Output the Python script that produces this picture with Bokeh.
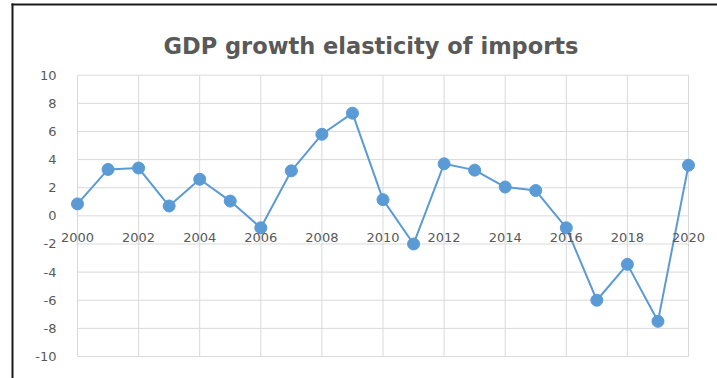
from bokeh.plotting import figure
from bokeh.models import (Range1d, FixedTicker, BoxAnnotation, ColumnDataSource,
                          Label, NumeralTickFormatter)
from bokeh.embed import file_html
from bokeh.resources import INLINE

years = list(range(2000, 2021))
elasticity = [0.85, 3.3, 3.4, 0.7, 2.6, 1.05, -0.85, 3.2, 5.8, 7.3, 1.15,
              -2.0, 3.7, 3.25, 2.05, 1.8, -0.85, -6.0, -3.45, -7.5, 3.6]
x_ticks = list(range(2000, 2021, 2))
y_ticks = list(range(-10, 11, 2))
title_text = "GDP growth elasticity of imports"

W, H = 717, 378
x_first_px, x_last_px = 77.0, 688.0
y_top_px, y_bot_px = 74.7, 356.0

px_x = (x_last_px - x_first_px) / (x_ticks[-1] - x_ticks[0])
px_y = (y_bot_px - y_top_px) / (y_ticks[-1] - y_ticks[0])
x0 = x_ticks[0] - x_first_px / px_x
x1 = x0 + W / px_x
y1 = y_ticks[-1] + y_top_px / px_y
y0 = y1 - H / px_y

src = ColumnDataSource(dict(year=years, value=elasticity))

p = figure(width=W, height=H, output_backend="svg", toolbar_location=None,
           x_range=Range1d(x0, x1), y_range=Range1d(y0, y1),
           min_border_left=0, min_border_right=0, min_border_top=0,
           min_border_bottom=0)
p.title.visible = False
p.background_fill_color = "white"
p.border_fill_color = "white"
p.outline_line_color = None
p.xgrid.visible = False
p.ygrid.visible = False

grid_color = "#D9D9D9"
p.segment(x0=x_ticks, y0=[y_ticks[0]] * len(x_ticks), x1=x_ticks,
          y1=[y_ticks[-1]] * len(x_ticks), line_color=grid_color, line_width=1)
p.segment(x0=[x_ticks[0]] * len(y_ticks), y0=y_ticks,
          x1=[x_ticks[-1]] * len(y_ticks), y1=y_ticks,
          line_color=grid_color, line_width=1)

p.xaxis.ticker = FixedTicker(ticks=x_ticks)
p.yaxis.ticker = FixedTicker(ticks=y_ticks)
p.yaxis.formatter = NumeralTickFormatter(format="0")
p.xaxis.fixed_location = 0
p.yaxis.fixed_location = x_ticks[0]
for ax in (p.xaxis, p.yaxis):
    ax.axis_line_color = None
    ax.major_tick_line_color = None
    ax.minor_tick_line_color = None
    ax.major_label_text_font = "DejaVu Sans"
    ax.major_label_text_font_size = "13px"
    ax.major_label_text_color = "#595959"
p.xaxis.major_label_standoff = 11
p.yaxis.major_label_standoff = 15

p.line("year", "value", source=src, line_color="#5B9BD5", line_width=2)
p.scatter("year", "value", source=src, size=12, fill_color="#5B9BD5",
          line_color="#5B9BD5")

p.add_layout(Label(x=163, y=45, x_units="canvas", y_units="canvas",
                   text=title_text, text_font="DejaVu Sans",
                   text_font_style="bold", text_font_size="22.5px",
                   text_color="#595959", text_align="left",
                   text_baseline="alphabetic"))

border_kw = dict(left_units="canvas", right_units="canvas", top_units="canvas",
                 bottom_units="canvas", fill_color="#1a1a1a", fill_alpha=1,
                 line_color=None, line_alpha=0, level="overlay")
p.add_layout(BoxAnnotation(left=11, right=13, top=3, bottom=H + 40,
                           **border_kw))
p.add_layout(BoxAnnotation(left=11, right=W + 40, top=3, bottom=5,
                           **border_kw))

open("out.html", "w").write(file_html(p, INLINE))
